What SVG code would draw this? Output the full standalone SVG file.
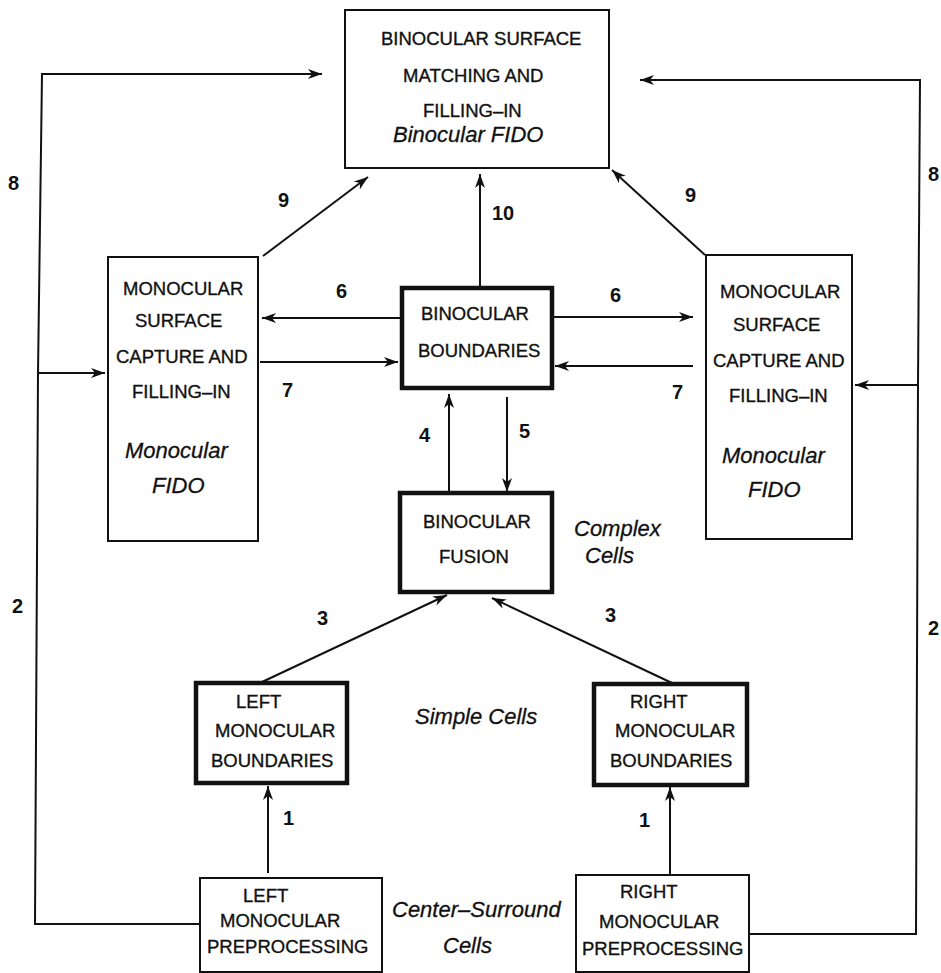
<svg xmlns="http://www.w3.org/2000/svg" width="941" height="973" viewBox="0 0 941 973">
<defs>
<marker id="ah" markerUnits="userSpaceOnUse" markerWidth="16" markerHeight="12" refX="14" refY="6" orient="auto">
<path d="M0,1 L14,6 L0,11 L4,6 z" fill="#111"/>
</marker>
<style>
.box{fill:#fff;stroke:#111;stroke-width:2}
.thick{fill:#fff;stroke:#111;stroke-width:4.5}
.t{font-family:"Liberation Sans",Arial,sans-serif;font-size:18.5px;fill:#111;stroke:#111;stroke-width:0.35}
.i{font-family:"Liberation Sans",Arial,sans-serif;font-size:22px;font-style:italic;fill:#111;stroke:#111;stroke-width:0.3}
.n{font-family:"Liberation Sans",Arial,sans-serif;font-size:20px;font-weight:bold;fill:#111}
.c{fill:none;stroke:#111;stroke-width:2}
.a{fill:none;stroke:#111;stroke-width:2;marker-end:url(#ah)}
</style>
</defs>
<rect width="941" height="973" fill="#fff"/>

<g id="connectors">
<path class="a" d="M200,924 H35 L38,373 H105"/>
<path class="a" d="M38,373 L42,74 H322"/>
<path class="a" d="M749,934 H916 L918,385 H855"/>
<path class="a" d="M918,385 L920,80 H640"/>
<path class="a" d="M263,256 L368,177"/>
<path class="a" d="M705,255 L612,170"/>
<path class="a" d="M480,288 V174"/>
<path class="a" d="M402,318 H262"/>
<path class="a" d="M552,317 H693"/>
<path class="a" d="M260,362 H398"/>
<path class="a" d="M693,366 H555"/>
<path class="a" d="M449,492 V394"/>
<path class="a" d="M507,397 V492"/>
<path class="a" d="M262,682 L447,595"/>
<path class="a" d="M672,683 L492,598"/>
<path class="a" d="M268,873 V786"/>
<path class="a" d="M670,875 V787"/>
</g>

<g id="binocular-fido">
<rect class="box" x="345" y="10" width="264" height="158"/>
<text class="t" x="381" y="45">BINOCULAR SURFACE</text>
<text class="t" x="403" y="82">MATCHING AND</text>
<text class="t" x="423" y="117">FILLING–IN</text>
<text class="i" x="393" y="142">Binocular FIDO</text>
</g>

<g id="left-monocular-fido">
<rect class="box" x="108" y="257" width="150" height="284"/>
<text class="t" x="123" y="295">MONOCULAR</text>
<text class="t" x="135" y="327">SURFACE</text>
<text class="t" x="116" y="363">CAPTURE AND</text>
<text class="t" x="132" y="398">FILLING–IN</text>
<text class="i" x="125" y="458">Monocular</text>
<text class="i" x="152" y="493">FIDO</text>
</g>

<g id="right-monocular-fido">
<rect class="box" x="706" y="255" width="146" height="284"/>
<text class="t" x="720" y="298">MONOCULAR</text>
<text class="t" x="733" y="331">SURFACE</text>
<text class="t" x="713" y="367">CAPTURE AND</text>
<text class="t" x="729" y="402">FILLING–IN</text>
<text class="i" x="722" y="463">Monocular</text>
<text class="i" x="748" y="497">FIDO</text>
</g>

<g id="binocular-boundaries">
<rect class="thick" x="402" y="288" width="150" height="100"/>
<text class="t" x="421" y="320">BINOCULAR</text>
<text class="t" x="418" y="357">BOUNDARIES</text>
</g>

<g id="binocular-fusion">
<rect class="thick" x="400" y="493" width="152" height="99"/>
<text class="t" x="423" y="528">BINOCULAR</text>
<text class="t" x="439" y="563">FUSION</text>
</g>

<g id="left-monocular-boundaries">
<rect class="thick" x="196" y="683" width="151" height="100"/>
<text class="t" x="236" y="708">LEFT</text>
<text class="t" x="215" y="737">MONOCULAR</text>
<text class="t" x="211" y="767">BOUNDARIES</text>
</g>

<g id="right-monocular-boundaries">
<rect class="thick" x="594" y="684" width="153" height="101"/>
<text class="t" x="630" y="708">RIGHT</text>
<text class="t" x="615" y="737">MONOCULAR</text>
<text class="t" x="610" y="767">BOUNDARIES</text>
</g>

<g id="left-preprocessing">
<rect class="box" x="200" y="878" width="182" height="94"/>
<text class="t" x="243" y="902">LEFT</text>
<text class="t" x="220" y="927">MONOCULAR</text>
<text class="t" x="207" y="953">PREPROCESSING</text>
</g>

<g id="right-preprocessing">
<rect class="box" x="576" y="875" width="173" height="97"/>
<text class="t" x="620" y="898">RIGHT</text>
<text class="t" x="599" y="928">MONOCULAR</text>
<text class="t" x="582" y="955">PREPROCESSING</text>
</g>

<g id="annotations">
<text class="i" x="574" y="536">Complex</text>
<text class="i" x="585" y="563">Cells</text>
<text class="i" x="415" y="724">Simple Cells</text>
<text class="i" x="392" y="917">Center–Surround</text>
<text class="i" x="443" y="953">Cells</text>
</g>

<g id="labels">
<text class="n" x="8" y="190">8</text>
<text class="n" x="928" y="181">8</text>
<text class="n" x="278" y="207">9</text>
<text class="n" x="685" y="202">9</text>
<text class="n" x="492" y="220">10</text>
<text class="n" x="336" y="298">6</text>
<text class="n" x="610" y="302">6</text>
<text class="n" x="282" y="397">7</text>
<text class="n" x="672" y="399">7</text>
<text class="n" x="419" y="442">4</text>
<text class="n" x="519" y="438">5</text>
<text class="n" x="317" y="625">3</text>
<text class="n" x="605" y="622">3</text>
<text class="n" x="12" y="613">2</text>
<text class="n" x="928" y="635">2</text>
<text class="n" x="283" y="825">1</text>
<text class="n" x="639" y="827">1</text>
</g>
</svg>
